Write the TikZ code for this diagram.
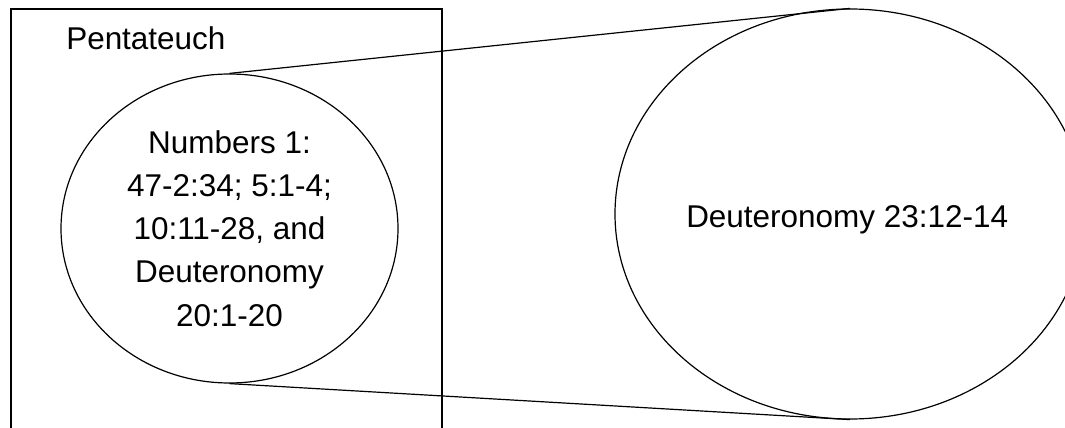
\documentclass[tikz,border=0pt]{standalone}
\usepackage{fontspec}
\setmainfont{Liberation Sans}
\usetikzlibrary{shapes.geometric, positioning}

\begin{document}
\begin{tikzpicture}[x=0.75pt,y=-0.75pt,
  % tutte le misure in pixel del disegno originale
  frame/.style={draw,line width=0.9pt,minimum width=323.25pt,minimum height=323.25pt,inner sep=0pt},
  passage/.style={draw,ellipse,line width=0.9pt,inner sep=0pt,align=center,
    font=\fontsize{23.6}{32.4}\selectfont},
  tag/.style={inner sep=0pt,font=\fontsize{23.6}{32.4}\selectfont},
  link/.style={line width=0.9pt}]

  \useasboundingbox (0,0) rectangle (1065,428);

  \node[frame](pentateuch) at (226.5,224.5){};
  \node[tag,anchor=base west](booktitle) at (66,50){Pentateuch};

  \node[passage,minimum width=252.75pt,minimum height=231.75pt](numbers) at (229.5,228.5)
    {Numbers 1:\\47-2:34; 5:1-4;\\10:11-28, and\\Deuteronomy\\20:1-20};
  \node[passage,minimum width=352.5pt,minimum height=307.5pt](deut) at (850,214){};
  \node[tag,anchor=base west](deuttext) at (686,228){Deuteronomy 23:12-14};

  \draw[link](numbers.north)--(deut.north);
  \draw[link](numbers.south)--(deut.south);

\end{tikzpicture}
\end{document}
